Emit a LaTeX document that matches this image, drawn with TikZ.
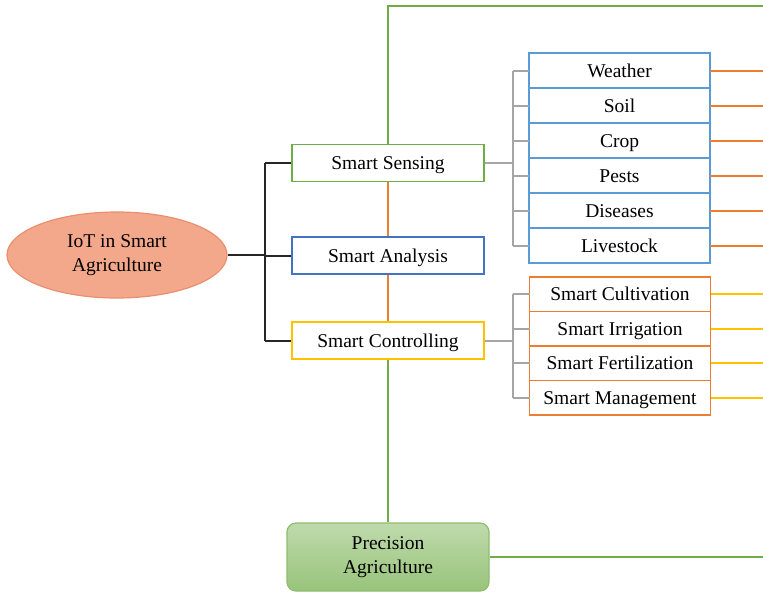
\documentclass[tikz,border=0pt]{standalone}
\usepackage{fontspec}
\setmainfont{Liberation Serif}
\usetikzlibrary{shapes,positioning}

\definecolor{leafgreen}{HTML}{70AD47}
\definecolor{sensblue}{HTML}{5B9BD5}
\definecolor{deepblue}{HTML}{4472C4}
\definecolor{carrot}{HTML}{ED7D31}
\definecolor{amber}{HTML}{FFC000}
\definecolor{wire}{HTML}{A5A5A5}
\definecolor{salmon}{HTML}{F3A88C}
\definecolor{salmonline}{HTML}{E98F6E}

\begin{document}
\begin{tikzpicture}[x=1pt,y=-1pt,
    every node/.style={font=\fontsize{19.5}{24}\selectfont},
    box/.style={draw,line width=1.8pt,minimum width=192pt,minimum height=37pt,inner sep=0pt,text height=16pt,text depth=3pt},
    sensor/.style={draw=sensblue,line width=1.8pt,minimum width=181pt,minimum height=35pt,inner sep=0pt,outer sep=0pt,
                   text height=16pt,text depth=3pt},
    actuator/.style={sensor,draw=carrot,minimum height=34.5pt},
    link/.style={line width=2pt}]
  \useasboundingbox (0,0) rectangle (763,592);

  % main topic and its three branches
  \node[ellipse,fill=salmon,draw=salmonline,line width=1.2pt,minimum width=220pt,minimum height=86pt,align=center] (iot) at (117,255) {IoT in Smart\\Agriculture};
  \node[box,draw=leafgreen] (sense) at (388,163) {Smart Sensing};
  \node[box,draw=deepblue] (analysis) at (388,255.5) {Smart Analysis};
  \node[box,draw=amber] (control) at (388,340.5) {Smart Controlling};
  \node[rounded corners=9pt,top color=leafgreen!45,bottom color=leafgreen!72,draw=leafgreen!80,line width=1.2pt,
        minimum width=202pt,minimum height=68pt,align=center] (prec) at (388,557) {Precision\\Agriculture};

  % sensed quantities
  \node[sensor] (weather) at (619.5,70.5) {Weather};
  \node[sensor,below=0pt of weather] (soil) {Soil};
  \node[sensor,below=0pt of soil] (crop) {Crop};
  \node[sensor,below=0pt of crop] (pests) {Pests};
  \node[sensor,below=0pt of pests] (diseases) {Diseases};
  \node[sensor,below=0pt of diseases] (livestock) {Livestock};

  % control actions
  \node[actuator] (cultivation) at (620,294.25) {Smart Cultivation};
  \node[actuator,below=0pt of cultivation] (irrigation) {Smart Irrigation};
  \node[actuator,below=0pt of irrigation] (fertilization) {Smart Fertilization};
  \node[actuator,below=0pt of fertilization] (management) {Smart Management};

  \coordinate (busL) at (265,255);
  \coordinate (busR) at (513,0);
  \coordinate (edge) at (763,6);

  % black tree from the ellipse
  \draw[link,black!85] (iot.east) -- (busL);
  \draw[link,black!85] (sense.west -| busL) -- (control.west -| busL);
  \foreach \n in {sense,analysis,control}
    \draw[link,black!85] (\n.west -| busL) -- (\n.west);

  % gray brackets
  \draw[link,wire] (sense.east) -- (sense.east -| busR);
  \draw[link,wire] (weather.west -| busR) -- (livestock.west -| busR);
  \foreach \n in {weather,soil,crop,pests,diseases,livestock}{
    \draw[link,wire] (\n.west -| busR) -- (\n.west);
    \draw[link,carrot] (\n.east) -- (\n.east -| edge);
  }
  \draw[link,wire] (control.east) -- (control.east -| busR);
  \draw[link,wire] (cultivation.west -| busR) -- (management.west -| busR);
  \foreach \n in {cultivation,irrigation,fertilization,management}{
    \draw[link,wire] (\n.west -| busR) -- (\n.west);
    \draw[link,amber] (\n.east) -- (\n.east -| edge);
  }

  % spine
  \draw[link,carrot] (sense.south) -- (analysis.north);
  \draw[link,carrot] (analysis.south) -- (control.north);
  \draw[link,leafgreen,line width=2.5pt] (sense.north) -- (sense.north |- edge) -- (edge);
  \draw[link,leafgreen] (control.south) -- (prec.north);
  \draw[link,leafgreen] (prec.east) -- (prec.east -| edge);
\end{tikzpicture}
\end{document}
